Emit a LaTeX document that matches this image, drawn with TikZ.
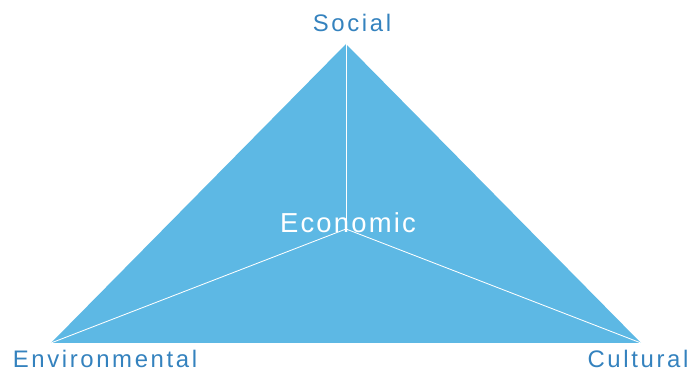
\documentclass[tikz,border=0pt]{standalone}
\usepackage{fontspec}
\setmainfont{Liberation Sans}
\usepackage{xcolor}
\definecolor{facefill}{RGB}{93,184,228}
\definecolor{labelblue}{RGB}{52,130,190}
\newfontfamily\spaced[LetterSpace=11]{Liberation Sans}
\newfontfamily\ecospaced[LetterSpace=8]{Liberation Sans}

\begin{document}
\begin{tikzpicture}[x=0.025cm, y=-0.025cm]
        \useasboundingbox (0, 0) rectangle (691, 372);

        % Corners and centre
        \coordinate (top) at (346, 44);
        \coordinate (left) at (51, 343);
        \coordinate (right) at (641, 343);
        \coordinate (mid) at (346, 229);

        % Triangle
        \fill[facefill] (top) -- (right) -- (left) -- cycle;

        % Edges to the centre
        \draw[white, line width=0.6pt] (mid) -- (top);
        \draw[white, line width=0.6pt] (mid) -- (left);
        \draw[white, line width=0.6pt] (mid) -- (right);

        % Labels
        \node[text=labelblue, font=\spaced\fontsize{17}{20}\selectfont] (social) at (352, 23) {Social};
        \node[text=labelblue, font=\spaced\fontsize{17}{20}\selectfont] (env) at (105, 359) {Environmental};
        \node[text=labelblue, font=\spaced\fontsize{17}{20}\selectfont] (cult) at (638, 359) {Cultural};
        \node[text=white, font=\ecospaced\fontsize{19.5}{23}\selectfont] (eco) at (348, 223) {Economic};
    \end{tikzpicture}
\end{document}
